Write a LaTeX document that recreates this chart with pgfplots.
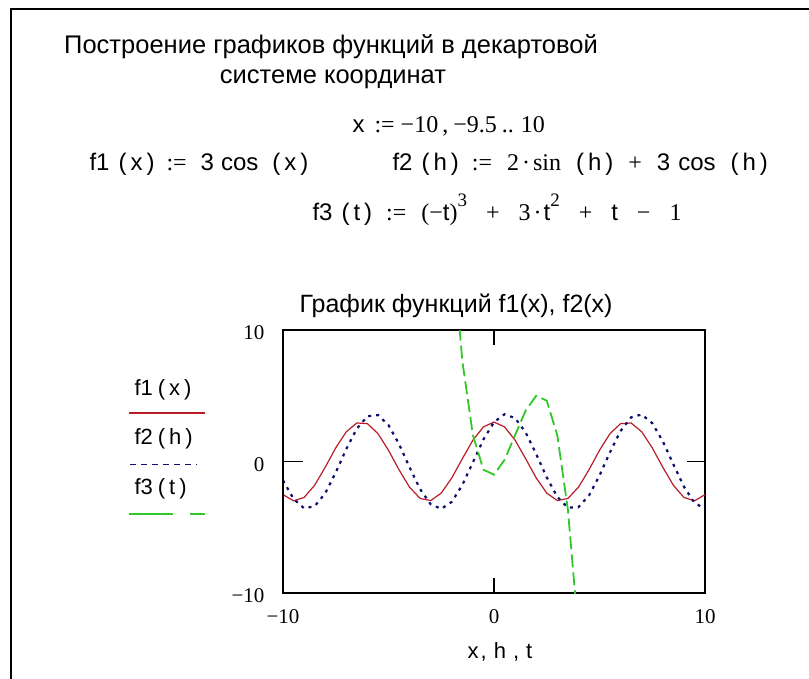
\documentclass[border=0pt]{standalone}
\usepackage{fontspec}
\setmainfont{Liberation Sans}
\newfontfamily\tms{Liberation Serif}
\usepackage{pgfplots}
\pgfplotsset{compat=1.18}

\definecolor{fone}{RGB}{185,30,40}
\definecolor{ftwo}{RGB}{15,15,110}
\definecolor{fthree}{RGB}{50,200,40}

% f1(x) = 3 cos(x), x = -10, -9.5 .. 10
\pgfplotstableread{
x y
-10 -2.5172
-9.5 -2.9915
-9 -2.7334
-8.5 -1.8060
-8 -0.4365
-7.5 1.0399
-7 2.2617
-6.5 2.9298
-6 2.8805
-5.5 2.1260
-5 0.8510
-4.5 -0.6324
-4 -1.9609
-3.5 -2.8094
-3 -2.9700
-2.5 -2.4034
-2 -1.2484
-1.5 0.2122
-1 1.6209
-0.5 2.6328
0 3.0000
0.5 2.6328
1 1.6209
1.5 0.2122
2 -1.2484
2.5 -2.4034
3 -2.9700
3.5 -2.8094
4 -1.9609
4.5 -0.6324
5 0.8510
5.5 2.1260
6 2.8805
6.5 2.9298
7 2.2617
7.5 1.0399
8 -0.4365
8.5 -1.8060
9 -2.7334
9.5 -2.9915
10 -2.5172
}\fone

% f2(h) = 2 sin(h) + 3 cos(h)
\pgfplotstableread{
x y
-10 -1.4292
-9.5 -2.8412
-9 -3.5576
-8.5 -3.4030
-8 -2.4152
-7.5 -0.8361
-7 0.9477
-6.5 2.4995
-6 3.4388
-5.5 3.5371
-5 2.7688
-4.5 1.3227
-4 -0.4473
-3.5 -2.1078
-3 -3.2522
-2.5 -3.6004
-2 -3.0670
-1.5 -1.7828
-1 -0.0620
-0.5 1.6739
0 3.0000
0.5 3.5916
1 3.3039
1.5 2.2072
2 0.5702
2.5 -1.2065
3 -2.6877
3.5 -3.5109
4 -3.4745
4.5 -2.5875
5 -1.0669
5.5 0.7149
6 2.3217
6.5 3.3600
7 3.5757
7.5 2.9159
8 1.5422
8.5 -0.2091
9 -1.9092
9.5 -3.1418
10 -3.6053
}\ftwo

% f3(t) = (-t)^3 + 3t^2 + t - 1 (only the part near the window)
\pgfplotstableread{
x y
-2 17
-1.5 7.625
-1 2
-0.5 -0.625
0 -1
0.5 0.125
1 2
1.5 3.875
2 5
2.5 4.625
3 2
3.5 -3.625
4 -13
}\fthree

\newcommand\fs[1]{\fontsize{#1}{#1}\selectfont}
\newcommand\sep[1]{\hspace*{#1pt}}
\newcommand\pw[1]{\raisebox{0.6em}{\tms\fs{19}#1}}

\begin{document}
\begin{tikzpicture}[x=1pt,y=1pt]
\useasboundingbox (0,0) rectangle (809,-678);
\fill[white] (0,0) rectangle (809,-678);
\draw[line width=2pt] (11,-679) -- (11,-9) -- (810,-9);

% heading
\node[font=\fs{25.5}] at (331,-47) {Построение графиков функций в декартовой};
\node[font=\fs{25.5}] at (333,-79) {системе координат};

% definitions
\node[font=\fs{24}, anchor=west] at (349,-126)
  {x\sep{10}{\tms :=\sep{6}−10\sep{4},\sep{5}−9.5\sep{5}..\sep{7}10}};
\node[font=\fs{24}, anchor=west] at (86,-164)
  {f1\sep{9}(\sep{4}x\sep{4})\sep{12}{\tms :=}\sep{14}3\sep{7}cos\sep{14}(\sep{4}x\sep{4})};
\node[font=\fs{24}, anchor=west] at (389,-164)
  {f2\sep{9}(\sep{4}h\sep{4})\sep{13}{\tms :=}\sep{15}{\tms 2\sep{3}·\sep{3}sin}\sep{15}(\sep{4}h\sep{4})\sep{15}{\tms +}\sep{15}3\sep{8}cos\sep{15}(\sep{4}h\sep{4})};
\node[font=\fs{24}, anchor=west] at (309,-210)
  {f3\sep{9}(\sep{4}t\sep{4})\sep{14}{\tms :=}\sep{15}{\tms (−}t{\tms )}\pw{3}\sep{19}{\tms +}\sep{19}{\tms 3\sep{3}·}\sep{2}t\pw{2}\sep{19}{\tms +}\sep{19}t\sep{19}{\tms −}\sep{19}{\tms 1}};

% plot title
\node[font=\fs{25}] at (456,-306) {График функций f1(x), f2(x)};

% legend
\node[font=\fs{22}, anchor=west] at (131,-390) {f1\sep{5}(\sep{4}x\sep{4})};
\draw[fone, line width=1.2pt] (129,-413) -- (205,-413);
\node[font=\fs{22}, anchor=west] at (131,-439) {f2\sep{5}(\sep{4}h\sep{4})};
\draw[ftwo, line width=1pt, dash pattern=on 6pt off 5pt] (130,-464) -- (197,-464);
\node[font=\fs{22}, anchor=west] at (131,-489) {f3\sep{5}(\sep{4}t\sep{4})};
\draw[fthree, line width=1.4pt, dash pattern=on 44pt off 17pt] (129,-514) -- (205,-514);

\begin{axis}[
  at={(283pt,-593pt)}, anchor=south west,
  scale only axis, width=422pt, height=263pt,
  xmin=-10, xmax=10, ymin=-10, ymax=10,
  xtick={-10,0,10}, ytick={-10,0,10},
  xticklabels={−10,0,10}, yticklabels={−10,0,10},
  major tick length=0pt,
  axis line style={line width=1.5pt},
  ticklabel style={font=\tms\fs{21}},
  yticklabel style={xshift=-15pt, yshift=-3pt},
  xticklabel style={yshift=-13pt},
  xlabel={x\sep{2},\sep{7}h\sep{7},\sep{7}t}, xlabel style={font=\fs{22}, yshift=-12pt, xshift=6pt},
]
\addplot[fone, line width=1.2pt] table {\fone};
\addplot[ftwo, line width=2.2pt, dash pattern=on 3pt off 5pt] table {\ftwo};
\addplot[fthree, line width=1.8pt, dash pattern=on 13pt off 5pt] table {\fthree};
\draw[line width=2.6pt] (axis cs:0,10) -- ++(0pt,-15pt);
\draw[line width=2.6pt] (axis cs:0,-10) -- ++(0pt,15pt);
\draw[line width=1.2pt] (axis cs:-10,0) -- ++(20pt,0pt);
\draw[line width=1.2pt] (axis cs:10,0) -- ++(-18pt,0pt);
\draw[line width=2.6pt] (axis cs:-10,-10) -- (axis cs:-10,10);
\end{axis}
\end{tikzpicture}
\end{document}
